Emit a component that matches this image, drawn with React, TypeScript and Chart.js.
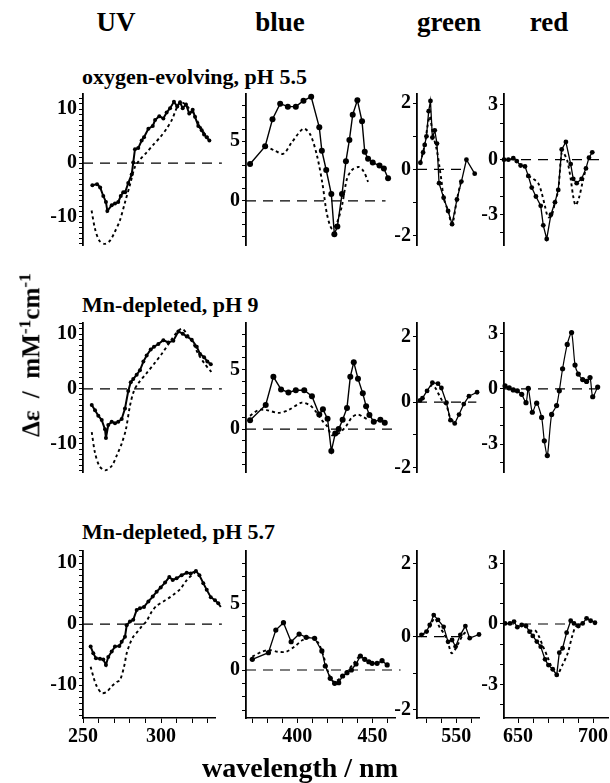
import React, { useEffect, useRef } from "react";
import { Chart, registerables } from "chart.js";
Chart.register(...registerables);

const SERIF = "'Liberation Serif', 'Times New Roman', serif";

// ---------------- data ----------------
const columnTitles = ["UV", "blue", "green", "red"];
const rowTitles = ["oxygen-evolving, pH 5.5", "Mn-depleted, pH 9", "Mn-depleted, pH 5.7"];

// UV, oxygen-evolving pH 5.5
const uv1Nm = [256, 259, 261, 263, 264.7, 265.6, 268.4, 270.5, 272.6, 274.2, 275.8, 277, 279, 281.2, 282.2, 283.3, 285.4, 287.6, 289.1, 291.9, 294.7, 296.2, 298.9, 301.5, 303.6, 305.8, 308.3, 310.4, 312.2, 313.9, 316, 318.1, 320.3, 321.8, 323.9, 326.1, 327.6, 329.3, 331];
const uv1Solid = [-4.1, -3.9, -4.5, -6.1, -7.2, -8.9, -7.8, -7.5, -7.2, -6.1, -5.4, -5.4, -3.7, -2.1, 0.1, 2.6, 2.8, 4.2, 4.8, 6.4, 6.9, 8.0, 8.7, 8.3, 9.4, 10.2, 11.4, 10.5, 11.3, 10.2, 10.9, 9.2, 9.9, 8.6, 6.9, 6.1, 5.3, 4.8, 4.2];
const uv1DotNm = [255.5, 257.7, 260.5, 264.1, 267.3, 270.5, 273.7, 276.9, 280.1, 283.3, 286.5, 290.8, 295, 299.4, 303.6, 306.9, 310, 312.2, 315.4, 318.6, 321.8, 325, 328.2, 330.3];
const uv1Dot = [-8.8, -12.2, -14.4, -15.0, -14.4, -12.7, -10.6, -7.3, -4.0, -0.7, 0.65, 2.0, 3.4, 4.8, 6.4, 8.0, 10.2, 11.3, 11.0, 9.9, 8.6, 6.9, 5.3, 4.8];

// UV, Mn-depleted pH 9
const uv2Nm = [255.6, 257.7, 259.8, 262, 264.1, 264.7, 266.2, 268.4, 270.5, 272.6, 274.8, 276.9, 279, 280.6, 282.2, 284.4, 286.5, 288.7, 290.8, 293.4, 295.5, 298.3, 301.5, 304.7, 307.9, 311.1, 313.9, 316.5, 319.7, 322.9, 325, 327.6, 329.7, 331.9];
const uv2Solid = [-2.95, -3.9, -4.9, -5.7, -7.4, -9.0, -6.6, -6.0, -6.3, -6.0, -5.5, -3.6, -0.4, 1.2, 1.8, 2.6, 3.4, 5.0, 6.1, 7.2, 7.7, 8.2, 8.9, 8.5, 8.8, 10.5, 10.1, 9.6, 9.0, 7.7, 6.4, 5.8, 5.0, 4.5];
const uv2DotNm = [255.6, 257.7, 260.5, 264.1, 268.4, 271.6, 274.8, 277.5, 280.1, 282.6, 285.4, 290.8, 295.9, 301, 306.2, 310.4, 313.5, 316.5, 319.7, 323.9, 328.2, 332.3];
const uv2Dot = [-7.9, -11.7, -14.1, -14.9, -14.1, -12.2, -10.0, -7.4, -3.1, -0.4, 1.0, 2.9, 4.7, 6.6, 8.8, 10.4, 11.0, 10.1, 8.8, 6.4, 4.5, 3.1];

// UV, Mn-depleted pH 5.7
const uv3Nm = [254.9, 256.6, 258.3, 260.9, 263, 264.7, 266.2, 268.4, 270.5, 273.3, 274.8, 276.9, 278, 280.1, 282.2, 284.4, 286.5, 289.1, 291.9, 294.7, 297.2, 299.8, 302.6, 305.3, 307.5, 310, 313.2, 316.5, 319, 322.4, 324.6, 327.1, 329.3, 331.9, 334.6, 336.7, 338.3];
const uv3Solid = [-3.7, -4.8, -5.6, -5.7, -5.8, -6.7, -5.4, -4.5, -3.7, -3.6, -2.9, -2.1, -0.2, 0.4, 0.7, 2.3, 2.6, 2.8, 3.7, 4.5, 5.3, 6.0, 6.8, 7.7, 7.2, 7.5, 8.0, 8.4, 8.3, 8.7, 8.0, 6.7, 5.6, 4.4, 3.9, 3.4, 2.8];
const uv3DotNm = [254.9, 256.6, 258.8, 262, 265.2, 268.4, 271.6, 273.7, 276.3, 278, 280.1, 282.2, 284.8, 287.6, 290.8, 294, 297.2, 301.5, 304.7, 307.9, 312.2, 316.5, 319.7, 322.9];
const uv3Dot = [-7.0, -8.6, -10.2, -11.3, -11.1, -10.2, -9.5, -9.2, -7.0, -4.8, -3.2, -2.1, -1.3, -0.4, 0.5, 2.0, 3.0, 3.7, 4.2, 4.8, 5.7, 7.2, 8.0, 8.7];

// blue
const blue1Nm = [368.7, 378.7, 383.6, 388.7, 393.8, 399.1, 404.2, 409.3, 414.7, 416.4, 419.3, 422.7, 424.7, 426.7, 429.8, 432.4, 434.7, 436.9, 440, 443.1, 444.9, 447.1, 450.2, 454.7, 457.6, 460.4];
const blue1Solid = [3.09, 4.57, 6.84, 8.15, 7.9, 7.9, 8.4, 8.72, 6.17, 4.2, 2.59, 0.57, -2.79, -2.15, 0.57, 3.33, 5.11, 7.23, 8.44, 6.67, 4.12, 3.53, 3.21, 2.96, 2.72, 1.9];
const blue1DotNm = [378.7, 385.3, 390.9, 396.4, 404.2, 408.7, 413.1, 416.9, 419.8, 423.1, 426.4, 429.8, 433.1, 436.4, 440.9, 444.2, 447.1];
const blue1Dot = [4.6, 4.2, 3.95, 4.9, 6.05, 5.56, 3.83, 1.36, -1.11, -2.35, -1.85, -0.37, 1.85, 2.59, 2.84, 2.47, 1.6];

const blue2Nm = [368.7, 379.1, 384.2, 389.3, 394.2, 399.1, 404.7, 409.8, 414.7, 417.1, 420.2, 422.7, 425.3, 427.6, 430.2, 433.1, 435.3, 437.6, 440.4, 443.6, 445.8, 448, 450.9, 455.3, 458.2];
const blue2Solid = [0.74, 2.03, 4.4, 3.34, 3.09, 3.27, 3.27, 2.77, 1.23, 1.68, 0.86, -1.86, -0.37, 0, 0.79, 1.78, 4.4, 5.64, 4.25, 3.01, 1.93, 1.19, 0.62, 0.79, 0.54];
const blue2DotNm = [368.7, 374.2, 379.7, 387.5, 394.2, 403.1, 408.7, 413.1, 416.4, 419.8, 422.7, 425.3, 428.7, 432.5, 436.4, 440.4, 444.2, 448];
const blue2Dot = [1.11, 1.6, 1.6, 1.36, 1.6, 2.23, 1.98, 1.36, 0.74, 0.25, -0.49, -0.49, -0.25, 0.25, 0.99, 1.23, 0.99, 0.74];

const blue3Nm = [370.2, 380.9, 385.8, 390.9, 396, 401.3, 406, 411.6, 416.4, 418.7, 422, 424.9, 427.6, 430.2, 433.1, 436, 439.1, 442, 444.9, 447.6, 449.8, 453.1, 456.4, 459.8];
const blue3Solid = [0.8, 1.3, 3.0, 3.55, 2.12, 2.7, 2.45, 2.38, 1.43, 0.3, -0.62, -1.0, -0.95, -0.45, -0.2, 0, 0.45, 1.05, 0.8, 0.62, 0.5, 0.5, 0.7, 0.38];
const blue3DotNm = [370.2, 376.4, 381.6, 387.1, 392.7, 398.2, 403.6, 409.8, 414.2, 417.6, 420.9, 424.2, 428.7, 433.1, 437.6, 440.9];
const blue3Dot = [1.0, 1.37, 1.5, 1.37, 1.37, 1.75, 2.25, 2.45, 2.0, 1.0, -0.25, -0.88, -0.62, -0.12, 0.5, 1.0];

// green
const green1Nm = [525.7, 527.5, 528.6, 529.8, 531.3, 532.5, 533.8, 535.4, 536.9, 538.3, 541.4, 544.4, 547.1, 550.4, 553.4, 556.8, 562.4];
const green1Solid = [0.2, 0.51, 0.74, 1.0, 1.76, 2.07, 0.96, 1.18, 0.78, -0.42, -0.86, -1.26, -1.66, -0.91, -0.37, 0.29, -0.13];
const green1DotNm = [525.7, 528.6, 530.5, 532, 534, 536.9, 538.6, 540, 541.4, 544.4, 547.1, 550.4, 553];
const green1Dot = [0.2, 0.74, 1.3, 1.6, 1.1, 0.56, 0.07, -0.37, -0.86, -1.26, -1.66, -0.91, -0.37];

const green2Nm = [525.5, 527.1, 530.2, 533.8, 537.6, 539.9, 543.3, 546, 548.9, 551.8, 555, 558.5, 564];
const green2Solid = [0.05, 0.12, 0.34, 0.59, 0.56, 0.43, -0.02, -0.55, -0.65, -0.38, -0.06, 0.18, 0.3];
const green2DotNm = [530.2, 533, 535.5, 538.5, 541, 543.3, 546, 548.9];
const green2Dot = [0.3, 0.5, 0.45, 0.2, 0.0, -0.1, -0.5, -0.6];

const green3Nm = [526.4, 529.8, 532, 534.7, 537.6, 541.4, 544.4, 547.1, 549.5, 552.7, 556.1, 559, 565.3];
const green3Solid = [0.05, 0.14, 0.32, 0.59, 0.46, 0.27, -0.14, -0.09, -0.27, 0.05, 0.29, -0.04, 0.06];
const green3DotNm = [526.4, 530, 533.5, 535.5, 538.5, 541.5, 544.4, 546.7, 549, 551.5, 554.5, 557];
const green3Dot = [0.05, 0.1, 0.4, 0.5, 0.27, 0.09, -0.17, -0.45, -0.36, -0.17, 0.05, 0.15];

// red
const red1Nm = [640.6, 643.5, 646.8, 649.1, 651.7, 654.6, 656.8, 659.1, 661.9, 665.1, 666.8, 669.1, 671.9, 674.6, 676.8, 679.1, 681.9, 685.1, 686.8, 689.1, 692.4, 695.3, 697.3, 699.5];
const red1Solid = [0, 0, 0.08, -0.08, -0.32, -0.37, -0.89, -1.53, -2.02, -2.53, -3.6, -4.35, -3.02, -2.34, -1.66, 0.56, 0.97, -0.24, -1.05, -1.29, -1.05, -0.48, 0.11, 0.4];
const red1DotNm = [656.8, 660.1, 663.4, 665.6, 667.8, 670, 672.3, 674.6, 676.8, 679.1, 680.7, 682.9, 685.1, 686.8, 688.4, 690.6, 693.1, 695.3];
const red1Dot = [-0.89, -1.05, -1.29, -1.78, -2.5, -3.15, -3.1, -2.34, -1.66, 0.4, 0.32, -0.08, -1.05, -2.02, -2.5, -2.1, -1.21, -0.48];

const red2Nm = [641.3, 644.1, 646.8, 649.5, 652.4, 655.3, 656.8, 659.5, 662.4, 665.7, 667.5, 669.5, 672.4, 675.7, 677.5, 679.7, 682.8, 685.7, 688, 690.2, 693.1, 695.7, 698, 699.8, 703.1];
const red2Solid = [0.16, 0.05, -0.06, -0.11, -0.3, -0.75, 0.02, -1.27, -0.78, -1.55, -2.82, -3.62, -1.39, -0.91, -0.11, 1.09, 2.41, 3.05, 1.29, 0.8, 0.5, 0.4, 0.61, -0.43, 0.1];

const red3Nm = [641.3, 644.6, 647.3, 649.5, 652.4, 655.3, 657.6, 659.8, 662.5, 665.1, 668, 670.2, 673.1, 675.8, 677.5, 679.7, 682.4, 685.1, 687.3, 690.2, 693.1, 695.7, 698.4, 701.3];
const red3Solid = [0.03, 0.03, 0.12, -0.16, -0.05, -0.1, -0.38, -0.59, -0.87, -1.12, -1.75, -2.03, -2.24, -2.52, -1.42, -1.2, -0.43, 0.16, 0.03, -0.1, 0.03, 0.28, 0.16, 0.06];
const red3DotNm = [657.6, 661, 663.5, 666.3, 669.5, 672.5, 675.8, 679.8, 683.1, 686, 688.4, 691];
const red3Dot = [-0.38, -0.3, -0.55, -1.05, -1.6, -2.15, -2.52, -2.0, -1.45, -0.63, -0.13, 0.0];

// ticks
const uvXTicks = [250, 260, 270, 280, 290, 300, 310, 320, 330];
const uvXLabels = [250, 300];
const blueXTicks = [370, 380, 390, 400, 410, 420, 430, 440, 450, 460];
const blueXLabels = [400, 450];
const greenXTicks = [530, 540, 550, 560];
const greenXLabels = [550];
const redXTicks = [650, 660, 670, 680, 690, 700];
const redXLabels = [650, 700];
const uvYTicks = [-15, -14, -13, -12, -11, -10, -9, -8, -7, -6, -5, -4, -3, -2, -1, 0, 1, 2, 3, 4, 5, 6, 7, 8, 9, 10, 11, 12];
const uvYLabels = [-10, 0, 10];
const blueYTicks = [-3, -2, -1, 0, 1, 2, 3, 4, 5, 6, 7, 8];
const blueYLabels = [0, 5];
const greenYTicks = [-2, -1, 0, 1, 2];
const greenYLabels = [-2, 0, 2];
const redYTicks = [-4, -3, -2, -1, 0, 1, 2, 3];
const redYLabels = [-3, 0, 3];

// ---------------- layout ----------------
const rowsGeom = [
  { top: 94, h: 171 },
  { top: 323, h: 169 },
  { top: 551, h: 167 },
];
const colGeom = [
  { left: 83, w: 132, xMin: 250, xMax: 334.6, xTicks: uvXTicks, xLabels: uvXLabels, yTicks: uvYTicks, yLabels: uvYLabels, padR: 14 },
  { left: 246, w: 148.5, xMin: 366, xMax: 465, xTicks: blueXTicks, xLabels: blueXLabels, yTicks: blueYTicks, yLabels: blueYLabels, padR: 12 },
  { left: 417, w: 62, xMin: 523.4, xMax: 565.3, xTicks: greenXTicks, xLabels: greenXLabels, yTicks: greenYTicks, yLabels: greenYLabels, padR: 10 },
  { left: 504, w: 104, xMin: 640.6, xMax: 710, xTicks: redXTicks, xLabels: redXLabels, yTicks: redYTicks, yLabels: redYLabels, padR: 8 },
];

type Series = { x: number[]; y: number[] } | null;
type PanelSpec = {
  row: number; col: number; yMin: number; yMax: number; zeroEnd: number;
  solid: { x: number[]; y: number[] }; dotted: Series; pointR: number; lineW: number; tension: number;
};

const panels: PanelSpec[] = [
  { row: 0, col: 0, yMin: -15.2, yMax: 12.84, zeroEnd: 339, solid: { x: uv1Nm, y: uv1Solid }, dotted: { x: uv1DotNm, y: uv1Dot }, pointR: 2, lineW: 2, tension: 0 },
  { row: 0, col: 1, yMin: -3.7, yMax: 8.96, zeroEnd: 458.7, solid: { x: blue1Nm, y: blue1Solid }, dotted: { x: blue1DotNm, y: blue1Dot }, pointR: 3, lineW: 1.4, tension: 0 },
  { row: 0, col: 2, yMin: -2.29, yMax: 2.28, zeroEnd: 554.3, solid: { x: green1Nm, y: green1Solid }, dotted: { x: green1DotNm, y: green1Dot }, pointR: 2.4, lineW: 1.3, tension: 0 },
  { row: 0, col: 3, yMin: -4.68, yMax: 3.6, zeroEnd: 708, solid: { x: red1Nm, y: red1Solid }, dotted: { x: red1DotNm, y: red1Dot }, pointR: 2.4, lineW: 1.3, tension: 0 },
  { row: 1, col: 0, yMin: -15.2, yMax: 12.05, zeroEnd: 339, solid: { x: uv2Nm, y: uv2Solid }, dotted: { x: uv2DotNm, y: uv2Dot }, pointR: 2, lineW: 2, tension: 0 },
  { row: 1, col: 1, yMin: -3.62, yMax: 8.94, zeroEnd: 463, solid: { x: blue2Nm, y: blue2Solid }, dotted: { x: blue2DotNm, y: blue2Dot }, pointR: 3, lineW: 1.4, tension: 0 },
  { row: 1, col: 2, yMin: -2.13, yMax: 2.41, zeroEnd: 563.5, solid: { x: green2Nm, y: green2Solid }, dotted: { x: green2DotNm, y: green2Dot }, pointR: 2.4, lineW: 1.3, tension: 0 },
  { row: 1, col: 3, yMin: -4.51, yMax: 3.57, zeroEnd: 706.6, solid: { x: red2Nm, y: red2Solid }, dotted: null, pointR: 2.6, lineW: 1.2, tension: 0.25 },
  { row: 2, col: 0, yMin: -15.4, yMax: 11.97, zeroEnd: 339, solid: { x: uv3Nm, y: uv3Solid }, dotted: { x: uv3DotNm, y: uv3Dot }, pointR: 2, lineW: 2, tension: 0 },
  { row: 2, col: 1, yMin: -3.6, yMax: 8.93, zeroEnd: 468.7, solid: { x: blue3Nm, y: blue3Solid }, dotted: { x: blue3DotNm, y: blue3Dot }, pointR: 2.6, lineW: 1.3, tension: 0 },
  { row: 2, col: 2, yMin: -2.22, yMax: 2.34, zeroEnd: 560, solid: { x: green3Nm, y: green3Solid }, dotted: { x: green3DotNm, y: green3Dot }, pointR: 2.4, lineW: 1.3, tension: 0 },
  { row: 2, col: 3, yMin: -4.65, yMax: 3.61, zeroEnd: 693.3, solid: { x: red3Nm, y: red3Solid }, dotted: { x: red3DotNm, y: red3Dot }, pointR: 2.4, lineW: 1.3, tension: 0 },
];

const pts = (xs: number[], ys: number[]) => xs.map((x, i) => ({ x, y: ys[i] }));
const tickFont = { family: SERIF, size: 20, weight: "bold" as const };

function Panel({ spec }: { spec: PanelSpec }) {
  const ref = useRef<HTMLCanvasElement>(null);
  const rg = rowsGeom[spec.row];
  const cg = colGeom[spec.col];
  const showX = spec.row === 2;
  const padL = 52, padT = 20, padR = cg.padR, padB = showX ? 40 : 20;
  const W = Math.round(cg.w + padL + padR);
  const H = Math.round(rg.h + padT + padB);
  useEffect(() => {
    const datasets: any[] = [
      {
        data: pts(spec.solid.x, spec.solid.y), borderColor: "#000", backgroundColor: "#000",
        borderWidth: spec.lineW, pointRadius: spec.pointR, pointBackgroundColor: "#000",
        pointBorderWidth: 0, tension: spec.tension, clip: false, fill: false,
      },
    ];
    if (spec.dotted) {
      datasets.push({
        data: pts(spec.dotted.x, spec.dotted.y), borderColor: "#000", borderWidth: 1.9,
        borderDash: [3, 3], pointRadius: 0, tension: 0.3, clip: false, fill: false,
      });
    }
    datasets.push({
      data: [{ x: cg.xMin, y: 0 }, { x: spec.zeroEnd, y: 0 }], borderColor: "#000", borderWidth: 1.2,
      borderDash: [10, 7], pointRadius: 0, clip: false, fill: false,
    });
    const chart = new Chart(ref.current as HTMLCanvasElement, {
      type: "line",
      data: { datasets },
      options: {
        animation: false, responsive: false, maintainAspectRatio: false, devicePixelRatio: 1,
        events: [],
        layout: { padding: { top: padT, right: padR, bottom: showX ? 0 : padB, left: 0 } },
        plugins: { legend: { display: false }, tooltip: { enabled: false } },
        scales: {
          x: {
            type: "linear", display: showX, bounds: "data",
            afterDataLimits: (s: any) => { s.min = cg.xMin; s.max = cg.xMax; },
            afterBuildTicks: (s: any) => { s.ticks = cg.xTicks.map((v) => ({ value: v })); },
            afterFit: (s: any) => { s.height = padB; },
            ticks: {
              autoSkip: false, maxRotation: 0, minRotation: 0, color: "#000", font: tickFont, padding: 2,
              callback: (v: any) => (cg.xLabels.includes(Number(v)) ? String(v) : ""),
            },
            grid: { display: true, drawOnChartArea: false, drawTicks: true, tickLength: 5, color: "#000", lineWidth: 1 },
            border: { display: true, color: "#000", width: 1.5 },
          },
          y: {
            type: "linear", bounds: "data",
            afterDataLimits: (s: any) => { s.min = spec.yMin; s.max = spec.yMax; },
            afterBuildTicks: (s: any) => { s.ticks = cg.yTicks.map((v) => ({ value: v })); },
            afterFit: (s: any) => { s.width = padL; },
            ticks: {
              autoSkip: false, color: "#000", font: tickFont, padding: 2,
              callback: (v: any) => (cg.yLabels.includes(Number(v)) ? String(v) : ""),
            },
            grid: { display: true, drawOnChartArea: false, drawTicks: true, tickLength: 4, color: "#000", lineWidth: 1 },
            border: { display: true, color: "#000", width: 1.8 },
          },
        },
      } as any,
    });
    return () => chart.destroy();
  }, []);
  return (
    <canvas
      ref={ref}
      width={W}
      height={H}
      style={{ position: "absolute", left: cg.left - padL, top: rg.top - padT, width: W, height: H }}
    />
  );
}

const headerX = [116, 280, 449, 549];
const rowTitleY = [77, 305, 532];

export default function App() {
  const txt: React.CSSProperties = { position: "absolute", fontFamily: SERIF, fontWeight: "bold", color: "#000", whiteSpace: "nowrap", lineHeight: 1 };
  return (
    <div style={{ position: "absolute", left: 0, top: 0, width: 610, height: 783, overflow: "hidden", background: "#fff" }}>
      {columnTitles.map((t, i) => (
        <div key={t} style={{ ...txt, fontSize: 27, left: headerX[i], top: 22, transform: "translate(-50%, -50%)" }}>{t}</div>
      ))}
      {rowTitles.map((t, i) => (
        <div key={t} style={{ ...txt, fontSize: 22, left: 82, top: rowTitleY[i], transform: "translateY(-50%)" }}>{t}</div>
      ))}
      {panels.map((p, i) => (
        <Panel key={i} spec={p} />
      ))}
      <div style={{ ...txt, fontSize: 25, left: 30, top: 355, transform: "translate(-50%, -50%) rotate(-90deg)" }}>
        Δε&nbsp; / &nbsp;mM<sup style={{ fontSize: "0.7em" }}>-1</sup>cm<sup style={{ fontSize: "0.7em" }}>-1</sup>
      </div>
      <div style={{ ...txt, fontSize: 28, left: 300, top: 768, transform: "translate(-50%, -50%)" }}>wavelength / nm</div>
    </div>
  );
}
